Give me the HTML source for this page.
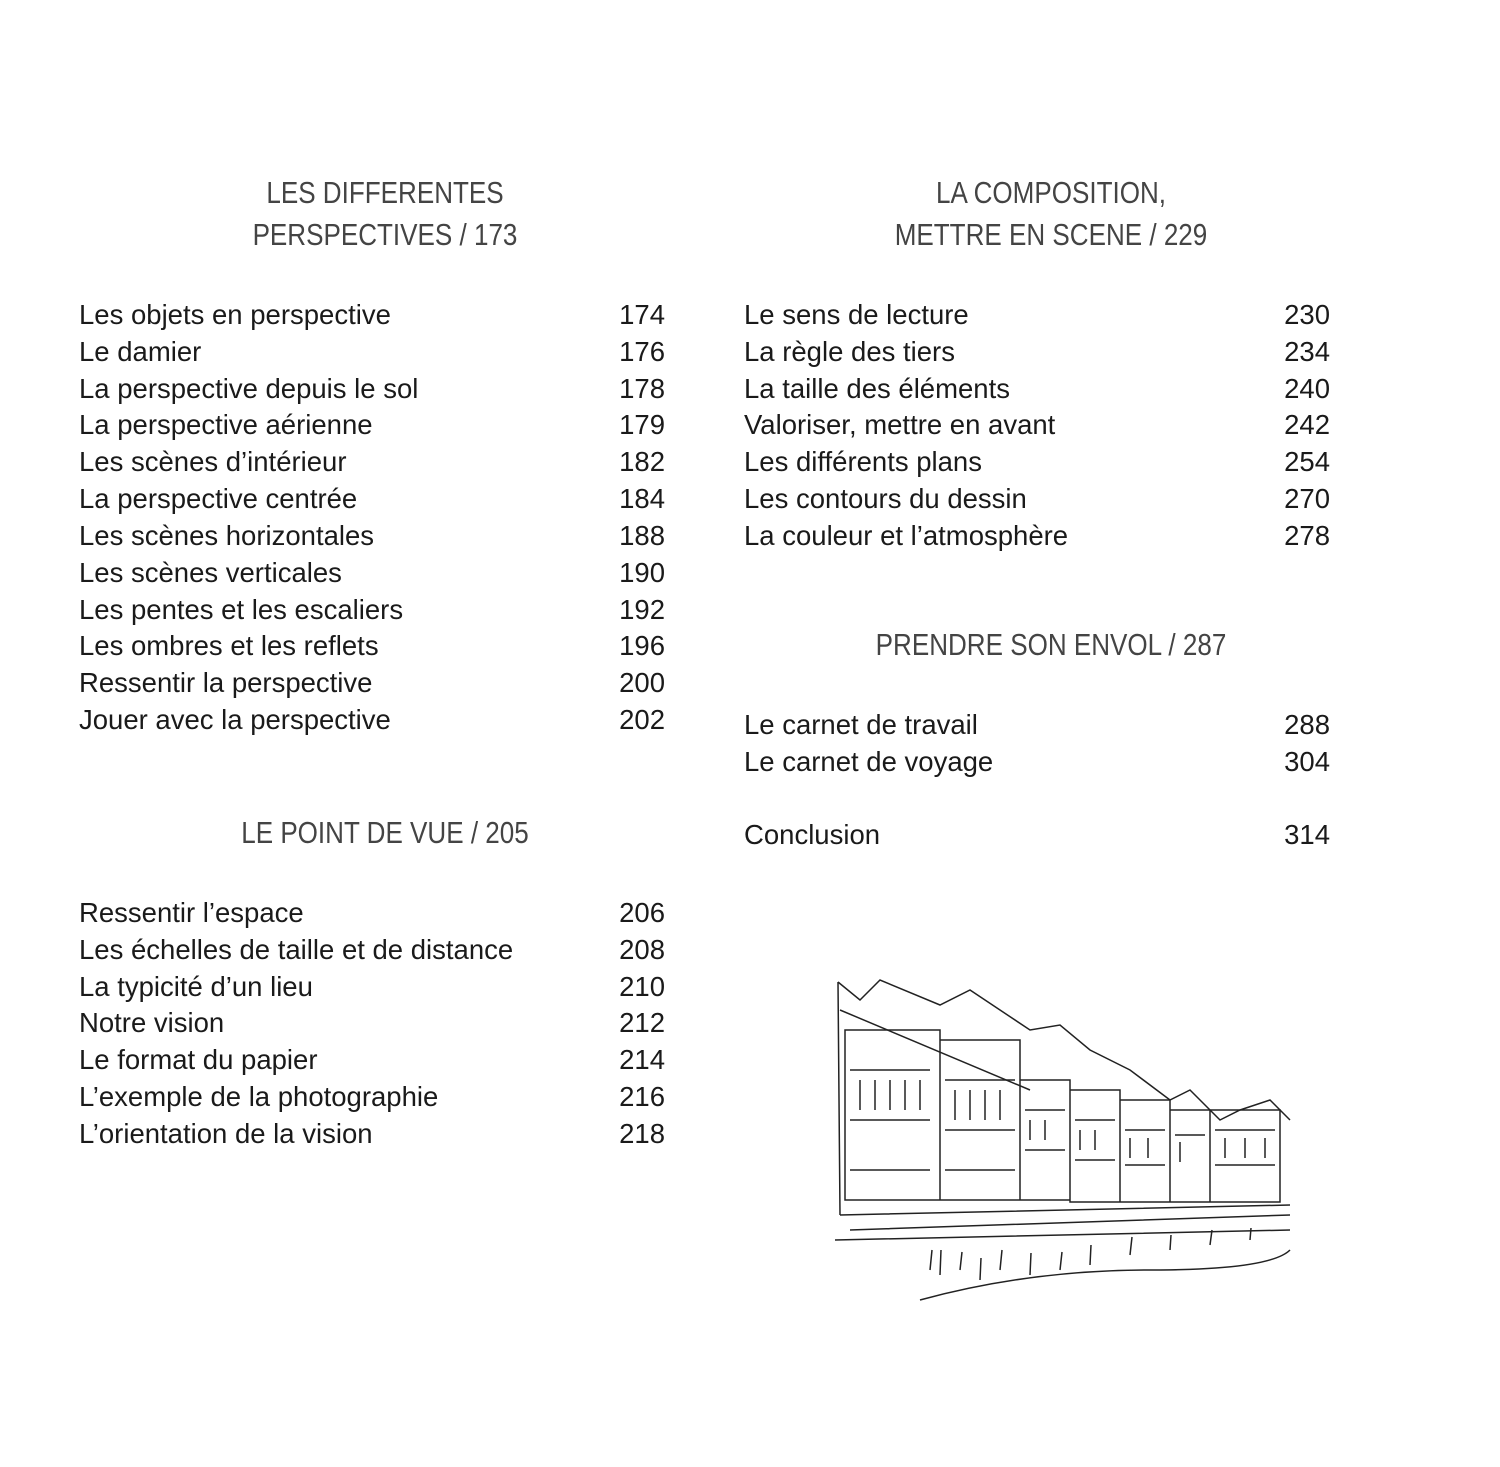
<!DOCTYPE html>
<html><head><meta charset="utf-8">
<style>
body{margin:0;background:#fff;}
#p{position:relative;width:1500px;height:1467px;overflow:hidden;font-family:"Liberation Sans",sans-serif;color:#1a1a1a;}
.r{position:absolute;font-size:27.5px;line-height:30px;height:30px;white-space:nowrap;}
.n{position:absolute;font-size:27.5px;line-height:30px;text-align:right;width:100px;}
.h{position:absolute;font-size:31px;line-height:42px;text-align:center;color:#444;width:600px;white-space:nowrap;transform:scaleX(0.84);transform-origin:center;}
</style></head><body><div id="p">
<div class="h" style="left:85px;top:172px">LES DIFFERENTES<br>PERSPECTIVES / 173</div>
<div class="h" style="left:751px;top:172px">LA COMPOSITION,<br>METTRE EN SCENE / 229</div>
<div class="h" style="left:85px;top:812px">LE POINT DE VUE / 205</div>
<div class="h" style="left:751px;top:624px">PRENDRE SON ENVOL / 287</div>

<div class="r" style="left:79px;top:300px">Les objets en perspective</div><div class="n" style="left:565px;top:300px">174</div>
<div class="r" style="left:79px;top:337px">Le damier</div><div class="n" style="left:565px;top:337px">176</div>
<div class="r" style="left:79px;top:374px">La perspective depuis le sol</div><div class="n" style="left:565px;top:374px">178</div>
<div class="r" style="left:79px;top:410px">La perspective aérienne</div><div class="n" style="left:565px;top:410px">179</div>
<div class="r" style="left:79px;top:447px">Les scènes d’intérieur</div><div class="n" style="left:565px;top:447px">182</div>
<div class="r" style="left:79px;top:484px">La perspective centrée</div><div class="n" style="left:565px;top:484px">184</div>
<div class="r" style="left:79px;top:521px">Les scènes horizontales</div><div class="n" style="left:565px;top:521px">188</div>
<div class="r" style="left:79px;top:558px">Les scènes verticales</div><div class="n" style="left:565px;top:558px">190</div>
<div class="r" style="left:79px;top:595px">Les pentes et les escaliers</div><div class="n" style="left:565px;top:595px">192</div>
<div class="r" style="left:79px;top:631px">Les ombres et les reflets</div><div class="n" style="left:565px;top:631px">196</div>
<div class="r" style="left:79px;top:668px">Ressentir la perspective</div><div class="n" style="left:565px;top:668px">200</div>
<div class="r" style="left:79px;top:705px">Jouer avec la perspective</div><div class="n" style="left:565px;top:705px">202</div>

<div class="r" style="left:79px;top:898px">Ressentir l’espace</div><div class="n" style="left:565px;top:898px">206</div>
<div class="r" style="left:79px;top:935px">Les échelles de taille et de distance</div><div class="n" style="left:565px;top:935px">208</div>
<div class="r" style="left:79px;top:972px">La typicité d’un lieu</div><div class="n" style="left:565px;top:972px">210</div>
<div class="r" style="left:79px;top:1008px">Notre vision</div><div class="n" style="left:565px;top:1008px">212</div>
<div class="r" style="left:79px;top:1045px">Le format du papier</div><div class="n" style="left:565px;top:1045px">214</div>
<div class="r" style="left:79px;top:1082px">L’exemple de la photographie</div><div class="n" style="left:565px;top:1082px">216</div>
<div class="r" style="left:79px;top:1119px">L’orientation de la vision</div><div class="n" style="left:565px;top:1119px">218</div>

<div class="r" style="left:744px;top:300px">Le sens de lecture</div><div class="n" style="left:1230px;top:300px">230</div>
<div class="r" style="left:744px;top:337px">La règle des tiers</div><div class="n" style="left:1230px;top:337px">234</div>
<div class="r" style="left:744px;top:374px">La taille des éléments</div><div class="n" style="left:1230px;top:374px">240</div>
<div class="r" style="left:744px;top:410px">Valoriser, mettre en avant</div><div class="n" style="left:1230px;top:410px">242</div>
<div class="r" style="left:744px;top:447px">Les différents plans</div><div class="n" style="left:1230px;top:447px">254</div>
<div class="r" style="left:744px;top:484px">Les contours du dessin</div><div class="n" style="left:1230px;top:484px">270</div>
<div class="r" style="left:744px;top:521px">La couleur et l’atmosphère</div><div class="n" style="left:1230px;top:521px">278</div>

<div class="r" style="left:744px;top:710px">Le carnet de travail</div><div class="n" style="left:1230px;top:710px">288</div>
<div class="r" style="left:744px;top:747px">Le carnet de voyage</div><div class="n" style="left:1230px;top:747px">304</div>
<div class="r" style="left:744px;top:820px">Conclusion</div><div class="n" style="left:1230px;top:820px">314</div>

<svg style="position:absolute;left:830px;top:970px" width="470" height="335" viewBox="0 0 470 335" fill="none" stroke="#222" stroke-width="1.5">
<path d="M8 12 L30 30 L50 10 L110 35 L140 20 L200 60 L230 55 L260 80 L300 100 L340 130 L360 120 L390 150 L410 140 L440 130 L460 150"/>
<path d="M8 12 L10 245 M10 40 L200 120 M10 245 L460 235 M20 260 L460 245 M5 270 L460 260"/>
<path d="M15 60 H110 V230 H15 Z M110 70 H190 V230 H110 Z M190 110 H240 V230 H190 Z M240 120 H290 V232 H240 Z M290 130 H340 V232 H290 Z M340 140 H380 V232 H340 Z M380 140 H450 V232 H380 Z"/>
<path d="M20 100 H100 M20 150 H100 M20 200 H100 M115 110 H185 M115 160 H185 M115 200 H185 M195 140 H235 M195 180 H235 M245 150 H285 M245 190 H285 M295 160 H335 M295 195 H335 M345 165 H375 M385 160 H445 M385 195 H445"/>
<path d="M30 110 v30 M45 110 v30 M60 110 v30 M75 110 v30 M90 110 v30 M125 120 v30 M140 120 v30 M155 120 v30 M170 120 v30 M200 150 v20 M215 150 v20 M250 160 v20 M265 160 v20 M300 168 v20 M318 168 v20 M350 172 v20 M395 168 v20 M415 168 v20 M435 168 v20"/>
<path d="M100 300 l2 -20 M110 305 l1 -25 M130 300 l2 -18 M150 310 l1 -22 M170 300 l2 -20 M200 305 l1 -22 M230 300 l2 -18 M260 295 l1 -20 M300 285 l2 -18 M340 280 l1 -15 M380 275 l2 -15 M420 270 l1 -12 M90 330 Q200 300 320 300 T460 280"/>
</svg>
</div></body></html>
